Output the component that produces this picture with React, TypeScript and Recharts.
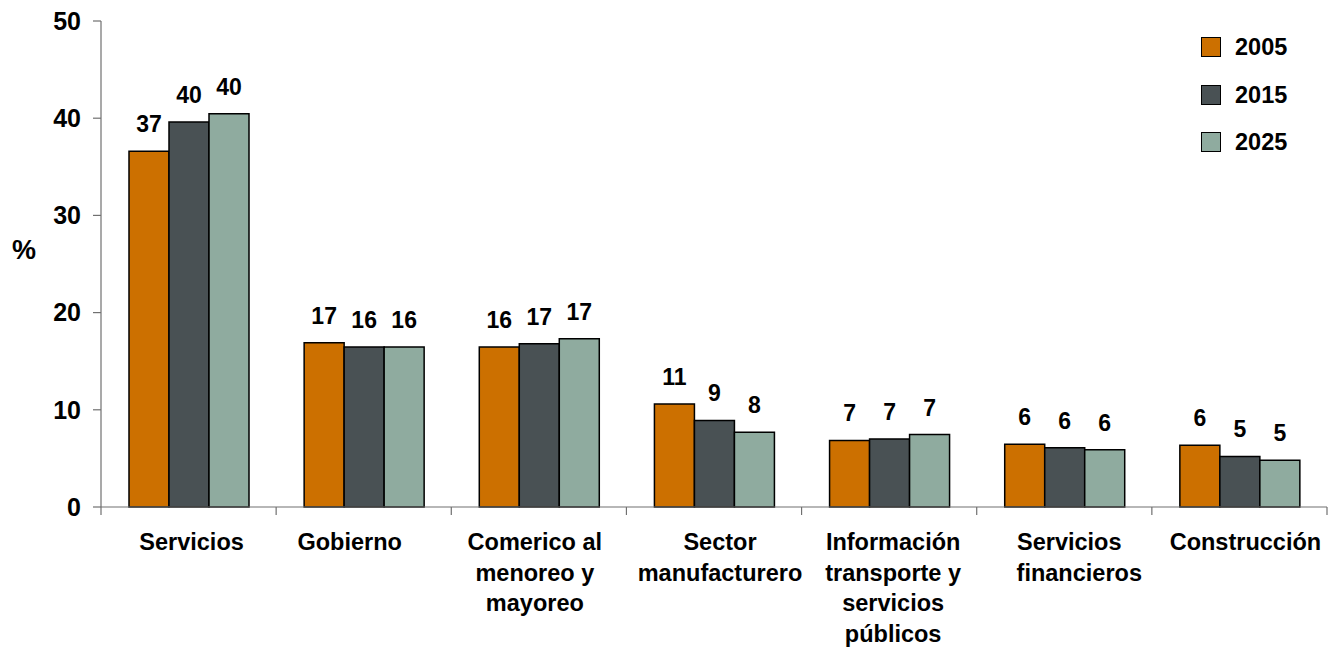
import React from 'react';
import { BarChart, Bar, XAxis, YAxis, LabelList, Legend } from 'recharts';

const categories = [
  'Servicios',
  'Gobierno',
  'Comerico al\nmenoreo y\nmayoreo',
  'Sector\nmanufacturero',
  'Información\ntransporte y\nservicios\npúblicos',
  'Servicios\nfinancieros',
  'Construcción',
];
const seriesNames = ['2005', '2015', '2025'];
const values2005 = [36.6, 16.9, 16.45, 10.6, 6.85, 6.45, 6.35];
const values2015 = [39.6, 16.45, 16.8, 8.9, 7.0, 6.1, 5.2];
const values2025 = [40.45, 16.45, 17.3, 7.7, 7.45, 5.9, 4.8];
const labels2005 = [37, 17, 16, 11, 7, 6, 6];
const labels2015 = [40, 16, 17, 9, 7, 6, 5];
const labels2025 = [40, 16, 17, 8, 7, 6, 5];
const yTicks = [0, 10, 20, 30, 40, 50];

const colors = ['#CC7000', '#495154', '#8FAB9F'];

const data = categories.map((c, i) => ({
  cat: c,
  v2005: values2005[i],
  v2015: values2015[i],
  v2025: values2025[i],
  l2005: labels2005[i],
  l2015: labels2015[i],
  l2025: labels2025[i],
}));

// layout constants
const W = 1335;
const H = 647;
const M = { top: 21, right: 8, left: 0, bottom: 0 };
const Y_W = 101;
const X_H = 140;
const PLOT_W = W - M.left - M.right - Y_W;
const STEP = PLOT_W / categories.length;
const FONT = '"Liberation Sans", Arial, Helvetica, sans-serif';
const AXIS_COLOR = '#707070';
// horizontal nudges of the category captions (per line where needed), as in the reference
const CAPTION_DX: (number | number[])[] = [3, -14, -4, 6, 4, [5, 15], 6];

const CategoryTick = (props: any) => {
  const { x, y, payload, index } = props;
  const lines = String(payload.value).split('\n');
  const left = x - STEP / 2;
  const right = x + STEP / 2;
  const dxSpec = CAPTION_DX[index] ?? 0;
  const dxFor = (i: number) => (Array.isArray(dxSpec) ? dxSpec[i] ?? 0 : dxSpec);
  return (
    <g>
      <line x1={left} y1={y} x2={left} y2={y + 8} stroke={AXIS_COLOR} strokeWidth={1.2} />
      {index === categories.length - 1 && (
        <line x1={right} y1={y} x2={right} y2={y + 8} stroke={AXIS_COLOR} strokeWidth={1.2} />
      )}
      <text
        x={x}
        y={y + 43}
        textAnchor="middle"
        fontSize={23.5}
        fontWeight="bold"
        fontFamily={FONT}
        fill="#000"
      >
        {lines.map((l, i) => (
          <tspan key={i} x={x + dxFor(i)} dy={i === 0 ? 0 : 30.5}>
            {l}
          </tspan>
        ))}
      </text>
    </g>
  );
};

const renderLegend = (props: any) => {
  const { payload } = props;
  return (
    <div>
      {(payload || []).map((p: any, i: number) => (
        <div
          key={i}
          style={{ display: 'flex', alignItems: 'center', height: 20, marginBottom: 27.7 }}
        >
          <span
            style={{
              display: 'inline-block',
              width: 20,
              height: 20,
              background: p.color,
              border: '1.5px solid #000',
              boxSizing: 'border-box',
            }}
          />
          <span
            style={{
              marginLeft: 14,
              fontFamily: FONT,
              fontWeight: 'bold',
              fontSize: 23.5,
              color: '#000',
              lineHeight: '20px',
            }}
          >
            {p.value}
          </span>
        </div>
      ))}
    </div>
  );
};

const labelStyle = {
  fontSize: 23,
  fontWeight: 'bold' as const,
  fontFamily: FONT,
  fill: '#000',
};

export default function App() {
  return (
    <div style={{ width: W, height: H, position: 'relative' }}>
      <style>{'body{margin:0;}'}</style>
      <BarChart width={W} height={H} data={data} margin={M} barGap={0} barSize={40}>
        <XAxis
          dataKey="cat"
          height={X_H}
          interval={0}
          tickLine={false}
          tickSize={0}
          tickMargin={0}
          stroke={AXIS_COLOR}
          strokeWidth={1.2}
          tick={<CategoryTick />}
        />
        <YAxis
          width={Y_W}
          domain={[0, 50]}
          ticks={yTicks}
          interval={0}
          tickSize={8}
          tickMargin={12}
          stroke={AXIS_COLOR}
          strokeWidth={1.2}
          tick={{ fontSize: 25, fontWeight: 'bold', fontFamily: FONT, fill: '#000' }}
          label={{
            content: () => (
              <text x={12} y={259} fontSize={27} fontWeight="bold" fontFamily={FONT} fill="#000">
                %
              </text>
            ),
          }}
        />
        <Legend
          layout="vertical"
          align="center"
          verticalAlign="middle"
          wrapperStyle={{ top: 37, left: 1201, width: 130, height: 150 }}
          content={renderLegend}
        />
        <Bar dataKey="v2005" name={seriesNames[0]} fill={colors[0]} stroke="#000" strokeWidth={1.5} isAnimationActive={false}>
          <LabelList dataKey="l2005" position="top" offset={19} style={labelStyle} />
        </Bar>
        <Bar dataKey="v2015" name={seriesNames[1]} fill={colors[1]} stroke="#000" strokeWidth={1.5} isAnimationActive={false}>
          <LabelList dataKey="l2015" position="top" offset={19} style={labelStyle} />
        </Bar>
        <Bar dataKey="v2025" name={seriesNames[2]} fill={colors[2]} stroke="#000" strokeWidth={1.5} isAnimationActive={false}>
          <LabelList dataKey="l2025" position="top" offset={19} style={labelStyle} />
        </Bar>
      </BarChart>
    </div>
  );
}
